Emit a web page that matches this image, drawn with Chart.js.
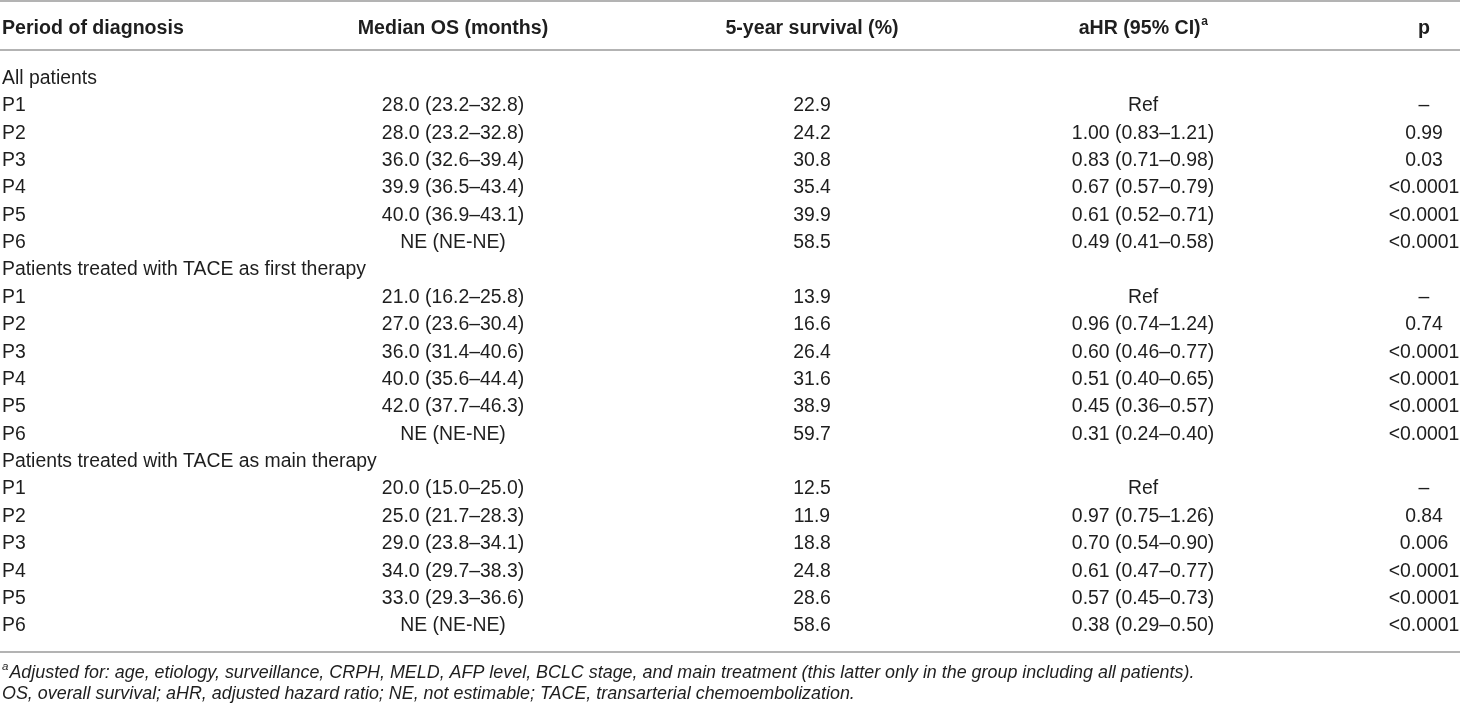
<!DOCTYPE html>
<html>
<head>
<meta charset="utf-8">
<script src="https://cdn.jsdelivr.net/npm/chart.js@4.4.1/dist/chart.umd.min.js"></script>
<style>
html,body{margin:0;padding:0;background:#fff;}
#wrap{width:1460px;height:706px;position:relative;}
</style>
</head>
<body>
<div id="wrap"><canvas id="c" width="1460" height="706"></canvas></div>
<script>
// ---- Data ----
const columnHeaders = ['Period of diagnosis', 'Median OS (months)', '5-year survival (%)', 'aHR (95% CI)', 'p'];
const groups = ['All patients', 'Patients treated with TACE as first therapy', 'Patients treated with TACE as main therapy'];
const periods = ['P1', 'P2', 'P3', 'P4', 'P5', 'P6'];

const medianAll   = ['28.0 (23.2–32.8)', '28.0 (23.2–32.8)', '36.0 (32.6–39.4)', '39.9 (36.5–43.4)', '40.0 (36.9–43.1)', 'NE (NE-NE)'];
const medianFirst = ['21.0 (16.2–25.8)', '27.0 (23.6–30.4)', '36.0 (31.4–40.6)', '40.0 (35.6–44.4)', '42.0 (37.7–46.3)', 'NE (NE-NE)'];
const medianMain  = ['20.0 (15.0–25.0)', '25.0 (21.7–28.3)', '29.0 (23.8–34.1)', '34.0 (29.7–38.3)', '33.0 (29.3–36.6)', 'NE (NE-NE)'];

const survAll   = [22.9, 24.2, 30.8, 35.4, 39.9, 58.5];
const survFirst = [13.9, 16.6, 26.4, 31.6, 38.9, 59.7];
const survMain  = [12.5, 11.9, 18.8, 24.8, 28.6, 58.6];

const ahrAll   = ['Ref', '1.00 (0.83–1.21)', '0.83 (0.71–0.98)', '0.67 (0.57–0.79)', '0.61 (0.52–0.71)', '0.49 (0.41–0.58)'];
const ahrFirst = ['Ref', '0.96 (0.74–1.24)', '0.60 (0.46–0.77)', '0.51 (0.40–0.65)', '0.45 (0.36–0.57)', '0.31 (0.24–0.40)'];
const ahrMain  = ['Ref', '0.97 (0.75–1.26)', '0.70 (0.54–0.90)', '0.61 (0.47–0.77)', '0.57 (0.45–0.73)', '0.38 (0.29–0.50)'];

const pAll   = ['–', '0.99', '0.03', '<0.0001', '<0.0001', '<0.0001'];
const pFirst = ['–', '0.74', '<0.0001', '<0.0001', '<0.0001', '<0.0001'];
const pMain  = ['–', '0.84', '0.006', '<0.0001', '<0.0001', '<0.0001'];

const footnote1 = 'Adjusted for: age, etiology, surveillance, CRPH, MELD, AFP level, BCLC stage, and main treatment (this latter only in the group including all patients).';
const footnote2 = 'OS, overall survival; aHR, adjusted hazard ratio; NE, not estimable; TACE, transarterial chemoembolization.';

// ---- Build table rows from data ----
const medians = [medianAll, medianFirst, medianMain];
const survs = [survAll, survFirst, survMain];
const ahrs = [ahrAll, ahrFirst, ahrMain];
const ps = [pAll, pFirst, pMain];
const rows = [];
groups.forEach((g, gi) => {
  rows.push({label: g, cells: null});
  periods.forEach((p, i) => {
    rows.push({label: p, cells: [medians[gi][i], survs[gi][i].toFixed(1), ahrs[gi][i], ps[gi][i]]});
  });
});
const rowIdx = rows.map((r, i) => i);

// ---- Layout / style ----
const FONT = '"Liberation Sans", Arial, Helvetica, sans-serif';
const TEXT = '#1e1e1e';
const RULE = '#9a9a9a';
const colCenters = [null, 453, 812, 1143, 1424];
const firstColX = 2;
const BODY = '19.4px ';
const HEAD = 'bold 19.6px ';

const tablePlugin = {
  id: 'tablePlugin',
  afterDraw(chart) {
    const ctx = chart.ctx;
    const ys = chart.scales.y;
    const W = chart.width;
    const y0 = ys.getPixelForValue(0);
    const yN = ys.getPixelForValue(rows.length - 1);
    ctx.save();
    // rules
    ctx.strokeStyle = RULE;
    ctx.lineWidth = 1.6;
    const rule = (y) => { ctx.beginPath(); ctx.moveTo(0, y); ctx.lineTo(W, y); ctx.stroke(); };
    const topY = y0 - 77.5;
    const headY = y0 - 50;
    const headLine = y0 - 28.5;
    const botLine = yN + 26;
    rule(topY);
    rule(headLine);
    rule(botLine);

    ctx.fillStyle = TEXT;
    ctx.textBaseline = 'middle';
    // header
    ctx.font = HEAD + FONT;
    ctx.textAlign = 'left';
    ctx.fillText(columnHeaders[0], firstColX, headY);
    ctx.textAlign = 'center';
    ctx.fillText(columnHeaders[1], colCenters[1], headY);
    ctx.fillText(columnHeaders[2], colCenters[2], headY);
    // aHR with superscript
    const mainW = ctx.measureText(columnHeaders[3]).width;
    ctx.font = 'bold 12px ' + FONT;
    const supW = ctx.measureText('a').width;
    const startX = colCenters[3] - (mainW + supW) / 2;
    ctx.textAlign = 'left';
    ctx.font = HEAD + FONT;
    ctx.fillText(columnHeaders[3], startX, headY);
    ctx.font = 'bold 12px ' + FONT;
    ctx.fillText('a', startX + mainW + 0.5, headY - 7);
    ctx.font = HEAD + FONT;
    ctx.textAlign = 'center';
    ctx.fillText(columnHeaders[4], colCenters[4], headY);

    // body
    ctx.font = BODY + FONT;
    rows.forEach((r, i) => {
      const y = ys.getPixelForValue(i);
      ctx.textAlign = 'left';
      ctx.fillText(r.label, firstColX, y);
      if (r.cells) {
        ctx.textAlign = 'center';
        r.cells.forEach((c, ci) => ctx.fillText(c, colCenters[ci + 1], y));
      }
    });

    // footnotes
    const f1 = botLine + 21;
    const f2 = botLine + 42;
    ctx.textAlign = 'left';
    ctx.font = 'italic 11.5px ' + FONT;
    ctx.fillText('a', firstColX, f1 - 6);
    const aw = ctx.measureText('a').width;
    ctx.font = 'italic 17.9px ' + FONT;
    ctx.fillText(footnote1, firstColX + aw + 1, f1);
    ctx.fillText(footnote2, firstColX, f2);
    ctx.restore();
  }
};

new Chart(document.getElementById('c'), {
  type: 'scatter',
  data: {
    datasets: [{
      data: rowIdx.map(i => ({x: 0, y: i})),
      pointRadius: 0,
      showLine: false
    }]
  },
  options: {
    responsive: false,
    animation: false,
    events: [],
    layout: {padding: {top: 78.5, bottom: 80, left: 0, right: 0}},
    plugins: {legend: {display: false}, tooltip: {enabled: false}},
    scales: {
      x: {display: false, min: 0, max: 1},
      y: {display: false, reverse: true, min: 0, max: rows.length - 1}
    }
  },
  plugins: [tablePlugin]
});
</script>
</body>
</html>
